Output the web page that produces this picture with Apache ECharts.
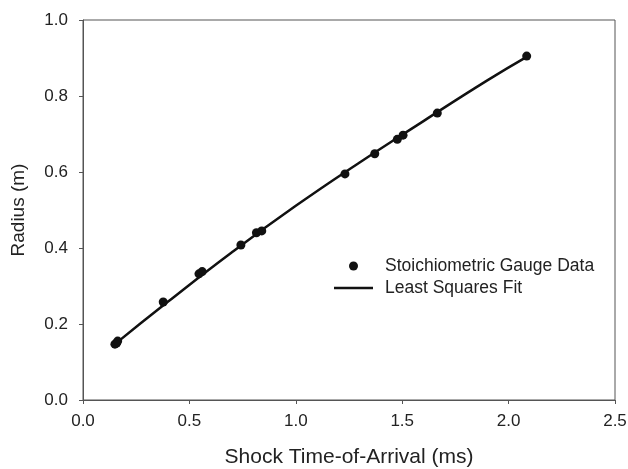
<!DOCTYPE html>
<html><head><meta charset="utf-8">
<script src="https://cdn.jsdelivr.net/npm/echarts@6/dist/echarts.min.js"></script>
<style>html,body{margin:0;padding:0;background:#fff}#c{width:628px;height:469px}</style>
</head><body><div id="c"></div>
<script>
var gaugeTime = [0.150, 0.158, 0.163, 0.377, 0.545, 0.560, 0.742, 0.815, 0.840, 1.231, 1.371, 1.477, 1.504, 1.665, 2.085];
var gaugeRadius = [0.147, 0.150, 0.155, 0.258, 0.332, 0.338, 0.408, 0.440, 0.445, 0.595, 0.648, 0.686, 0.697, 0.755, 0.905];
var fitTime = [0.150, 0.400, 0.700, 1.000, 1.300, 1.600, 1.900, 2.085];
var fitRadius = [0.147, 0.259, 0.389, 0.511, 0.625, 0.734, 0.841, 0.903];
var xTicks = ['0.0','0.5','1.0','1.5','2.0','2.5'];
var yTicks = ['0.0','0.2','0.4','0.6','0.8','1.0'];

var font = 'Liberation Sans, Arial, sans-serif';
var chart = echarts.init(document.getElementById('c'));
var axisLine = {show: true, lineStyle: {color: '#555', width: 1}};
var legendText = {fontFamily: font, fontSize: 17.5, color: '#222', padding: [0, 0, 0, 7]};
chart.setOption({
  animation: false,
  backgroundColor: '#fff',
  grid: {left: 83, right: 13, top: 20, bottom: 69, containLabel: false, outerBoundsMode: 'none',
    show: true, borderColor: '#555', borderWidth: 1, backgroundColor: 'transparent'},
  legend: [{
    orient: 'vertical', left: 344, top: 252, itemWidth: 39, itemHeight: 9, padding: 5,
    textStyle: legendText,
    data: [{name: 'Stoichiometric Gauge Data', icon: 'circle'}]
  }, {
    orient: 'vertical', left: 329, top: 274, itemWidth: 39, itemHeight: 2.5, padding: 5,
    textStyle: legendText,
    data: [{name: 'Least Squares Fit', icon: 'rect'}]
  }],
  xAxis: {
    type: 'value', min: 0, max: 2.5, interval: 0.5,
    name: 'Shock Time-of-Arrival (ms)', nameLocation: 'middle', nameGap: 47,
    nameTextStyle: {fontFamily: font, fontSize: 21, color: '#222'},
    axisLine: axisLine, axisTick: {show: true, length: 4, lineStyle: {color: '#555'}},
    axisLabel: {fontFamily: font, fontSize: 17, color: '#222', margin: 13,
      formatter: function (v) { return xTicks[Math.round(v / 0.5)]; }},
    splitLine: {show: false}
  },
  yAxis: {
    type: 'value', min: 0, max: 1, interval: 0.2,
    name: 'Radius (m)', nameLocation: 'middle', nameGap: 55, nameRotate: 90,
    nameTextStyle: {fontFamily: font, fontSize: 19, color: '#222'},
    axisLine: axisLine, axisTick: {show: true, length: 4, lineStyle: {color: '#555'}},
    axisLabel: {fontFamily: font, fontSize: 17, color: '#222', margin: 15,
      formatter: function (v) { return yTicks[Math.round(v / 0.2)]; }},
    splitLine: {show: false}
  },
  series: [{
    name: 'Least Squares Fit', type: 'line', smooth: true, symbol: 'none', showSymbol: false,
    lineStyle: {color: '#111', width: 2.5},
    itemStyle: {color: '#111'},
    data: fitTime.map(function (t, i) { return [t, fitRadius[i]]; }),
    z: 2
  }, {
    name: 'Stoichiometric Gauge Data', type: 'scatter', symbol: 'circle', symbolSize: 9,
    itemStyle: {color: '#111', opacity: 1},
    data: gaugeTime.map(function (t, i) { return [t, gaugeRadius[i]]; }),
    z: 3
  }]
});
</script></body></html>
